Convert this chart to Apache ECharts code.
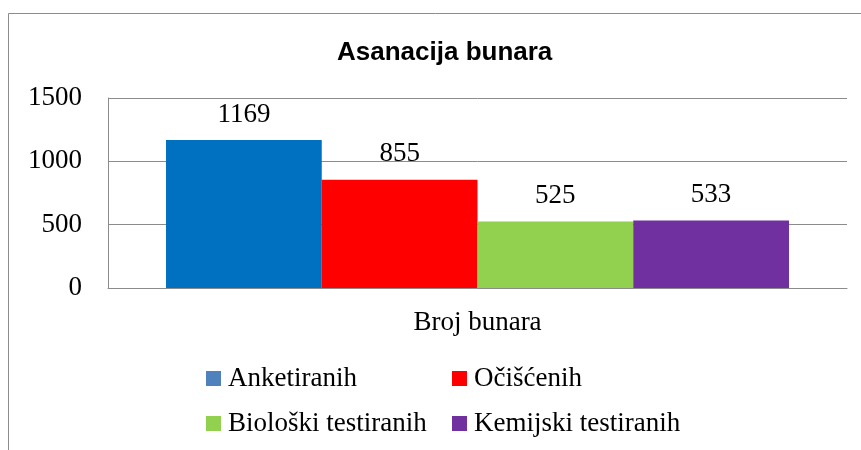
<!DOCTYPE html>
<html style="height: 100%">
   <head>
       <meta charset="utf-8">
   </head>
   <body style="height: 100%; margin: 0; width: 100%;">
       <div id="container" style="width: 861px; height: 450px;"></div>
       <script type="text/javascript" src="https://cdn.jsdelivr.net/npm/echarts@6/dist/echarts.min.js"></script>
       <script type="text/javascript">
// data
var categories = ['Broj bunara'];
var seriesNames = ['Anketiranih', 'Očišćenih', 'Biološki testiranih', 'Kemijski testiranih'];
var seriesValues = [1169, 855, 525, 533];
var barColors = ['#0070C0', '#FF0000', '#92D050', '#7030A0'];
var yTicks = [0, 500, 1000, 1500];

var dom = document.getElementById("container");
var myChart = echarts.init(dom);
var option = null;

var serif = '"Liberation Serif", "DejaVu Serif", serif';

var series = seriesNames.map(function (name, i) {
    return {
        name: name,
        type: 'bar',
        data: [seriesValues[i]],
        barGap: '0%',
        barCategoryGap: '15.7%',
        itemStyle: {color: barColors[i]},
        label: {
            show: true,
            position: 'top',
            distance: 12,
            color: '#000',
            fontFamily: serif,
            fontSize: 27
        }
    };
});

function legendItem(name) {
    var i = seriesNames.indexOf(name);
    // excel draws the first legend key a lighter blue than the bar
    var c = i === 0 ? '#4F81BD' : barColors[i];
    return {name: name, itemStyle: {color: c}};
}

var legendText = {color: '#000', fontFamily: serif, fontSize: 27, lineHeight: 27, padding: [0, 0, 0, 2]};

option = {
    backgroundColor: '#fff',
    animation: false,
    title: {
        text: 'Asanacija bunara',
        left: 332,
        top: 35,
        textStyle: {
            fontFamily: '"Liberation Sans", Arial, sans-serif',
            fontWeight: 'bold',
            fontSize: 26,
            color: '#000'
        }
    },
    graphic: [{
        type: 'rect',
        shape: {x: 8.5, y: 13.5, width: 900, height: 500},
        style: {fill: 'none', stroke: '#8c8c8c', lineWidth: 1},
        silent: true,
        z: -1
    }],
    legend: [{
        orient: 'vertical',
        left: 206,
        top: 365,
        padding: 0,
        itemWidth: 15,
        itemHeight: 15,
        itemGap: 18,
        icon: 'rect',
        textStyle: legendText,
        data: [legendItem(seriesNames[0]), legendItem(seriesNames[2])]
    }, {
        orient: 'vertical',
        left: 452,
        top: 365,
        padding: 0,
        itemWidth: 15,
        itemHeight: 15,
        itemGap: 18,
        icon: 'rect',
        textStyle: legendText,
        data: [legendItem(seriesNames[1]), legendItem(seriesNames[3])]
    }],
    grid: {
        left: 108,
        right: 14,
        top: 98,
        bottom: 162
    },
    xAxis: {
        type: 'category',
        data: categories,
        axisLine: {lineStyle: {color: '#8c8c8c', width: 1}},
        axisTick: {show: false},
        axisLabel: {
            margin: 21,
            color: '#000',
            fontFamily: serif,
            fontSize: 27
        }
    },
    yAxis: {
        type: 'value',
        min: yTicks[0],
        max: yTicks[yTicks.length - 1],
        interval: yTicks[1] - yTicks[0],
        axisLine: {show: true, lineStyle: {color: '#8c8c8c', width: 1}},
        axisTick: {show: false},
        splitLine: {lineStyle: {color: '#8c8c8c', width: 1}},
        axisLabel: {
            margin: 26,
            color: '#000',
            fontFamily: serif,
            fontSize: 27,
            formatter: function (v) { return String(v); }
        }
    },
    series: series
};

if (option && typeof option === "object") {
    myChart.setOption(option, true);
}
       </script>
   </body>
</html>
